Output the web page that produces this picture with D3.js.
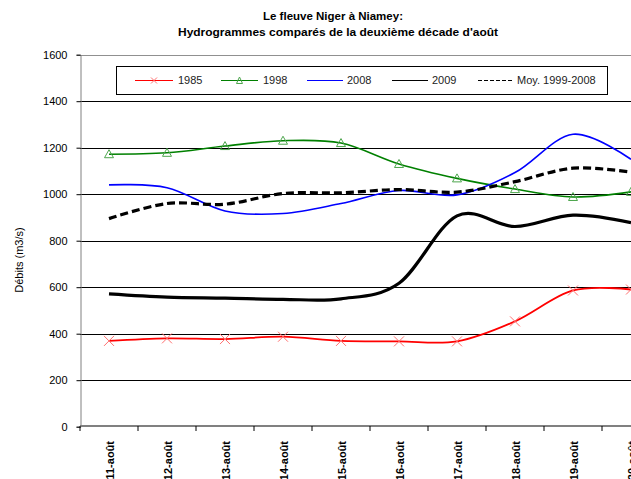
<!DOCTYPE html>
<html><head><meta charset="utf-8">
<script src="https://cdn.jsdelivr.net/npm/d3@7"></script>
<style>
html,body{margin:0;padding:0;background:#fff;overflow:hidden}
text{font-family:"Liberation Sans",Arial,sans-serif}
</style></head>
<body><svg id="c" width="631" height="479"></svg>
<script>
const categories = ["11-août","12-août","13-août","14-août","15-août","16-août","17-août","18-août","19-août","20-août"];
const s1985 = [369, 380, 377, 387, 369, 367, 367, 453, 586, 590];
const s1998 = [1172, 1178, 1207, 1230, 1220, 1130, 1068, 1022, 988, 1010];
const s2008 = [1040, 1028, 928, 917, 960, 1016, 997, 1093, 1258, 1150];
const s2009 = [571, 557, 553, 548, 550, 617, 907, 861, 910, 878];
const sMoy = [895, 960, 957, 1003, 1006, 1020, 1009, 1054, 1112, 1095];
const yTicks = [0, 200, 400, 600, 800, 1000, 1200, 1400, 1600];
const seriesNames = ["1985", "1998", "2008", "2009", "Moy. 1999-2008"];

const svg = d3.select("#c");
const x = d3.scaleBand().domain(categories).range([80, 660]);
const y = d3.scaleLinear().domain([0, 1600]).range([426.7, 54.7]);
const cx = d => x(d) + x.bandwidth() / 2;

// gridlines
svg.append("g").selectAll("line").data(yTicks.filter(v => v > 0 && v < 1600)).join("line")
  .attr("x1", 80).attr("x2", 631).attr("y1", d => Math.round(y(d)) + 0.5).attr("y2", d => Math.round(y(d)) + 0.5)
  .attr("stroke", "#000").attr("stroke-width", 1);
// top border
svg.append("line").attr("x1", 80).attr("x2", 631).attr("y1", Math.round(y(1600)) + 0.5).attr("y2", Math.round(y(1600)) + 0.5)
  .attr("stroke", "#909090").attr("stroke-width", 1);

// y axis
const yAxis = d3.axisLeft(y).tickValues(yTicks).tickSize(4).tickPadding(9).tickFormat(d3.format("d"));
const gy = svg.append("g").attr("transform", "translate(80.5,0)").call(yAxis);
gy.select(".domain").attr("stroke", "#808080");
gy.selectAll(".tick line").attr("stroke", "#000");
gy.selectAll(".tick text").attr("font-size", 11).attr("fill", "#000").attr("font-family", "Liberation Sans, Arial, sans-serif");

// x axis
const gx = svg.append("g").attr("transform", "translate(0,426)");
gx.append("line").attr("x1", 80).attr("x2", 631).attr("y1", 0).attr("y2", 0).attr("stroke", "#808080").attr("stroke-width", 2);
gx.selectAll("line.tk").data(categories).join("line").attr("class", "tk")
  .attr("x1", d => x(d)).attr("x2", d => x(d)).attr("y1", 0).attr("y2", 5).attr("stroke", "#000");
gx.selectAll("text").data(categories).join("text")
  .attr("transform", d => `translate(${cx(d) + 1},15) rotate(-90)`)
  .attr("text-anchor", "end").attr("dy", "0.35em")
  .attr("font-size", 11).attr("font-weight", "bold").text(d => d);

// lines
const line = d3.line().x((d, i) => cx(categories[i])).y(d => y(d)).curve(d3.curveCatmullRom.alpha(0));
const plot = svg.append("g");
plot.append("path").datum(s1998).attr("d", line).attr("fill", "none").attr("stroke", "#008000").attr("stroke-width", 1.6);
plot.append("path").datum(s2008).attr("d", line).attr("fill", "none").attr("stroke", "#0000ff").attr("stroke-width", 1.6);
plot.append("path").datum(sMoy).attr("d", line).attr("fill", "none").attr("stroke", "#000").attr("stroke-width", 3.2).attr("stroke-dasharray", "8,4");
plot.append("path").datum(s2009).attr("d", line).attr("fill", "none").attr("stroke", "#000").attr("stroke-width", 3.2);
plot.append("path").datum(s1985).attr("d", line).attr("fill", "none").attr("stroke", "#ff0000").attr("stroke-width", 1.8);

// markers
const tri = "M0,-4.5L4.5,3.5L-4.5,3.5Z";
const xm = "M-5,-5L5,5M-5,5L5,-5";
plot.selectAll("path.t").data(s1998).join("path").attr("class", "t")
  .attr("transform", (d, i) => `translate(${cx(categories[i])},${y(d)})`)
  .attr("d", tri).attr("fill", "none").attr("stroke", "#4ea64e").attr("stroke-width", 1);
plot.selectAll("path.x").data(s1985).join("path").attr("class", "x")
  .attr("transform", (d, i) => `translate(${cx(categories[i])},${y(d)})`)
  .attr("d", xm).attr("fill", "none").attr("stroke", "#ff7070").attr("stroke-width", 1);

// legend
const lg = svg.append("g");
lg.append("rect").attr("x", 116.5).attr("y", 66.5).attr("width", 491).attr("height", 28).attr("fill", "#fff").attr("stroke", "#000");
const lgItems = [
  {name: seriesNames[0], x1: 135, x2: 173, tx: 178, color: "#ff0000", dash: null, mk: "x"},
  {name: seriesNames[1], x1: 221, x2: 258, tx: 263, color: "#008000", dash: null, mk: "t"},
  {name: seriesNames[2], x1: 307, x2: 343, tx: 347, color: "#0000ff", dash: null, mk: null},
  {name: seriesNames[3], x1: 392, x2: 428, tx: 432, color: "#000", dash: null, mk: null},
  {name: seriesNames[4], x1: 478, x2: 513, tx: 517, color: "#000", dash: "4,2", mk: null}
];
lgItems.forEach(it => {
  const ly = 80.5;
  lg.append("line").attr("x1", it.x1).attr("x2", it.x2).attr("y1", ly).attr("y2", ly)
    .attr("stroke", it.color).attr("stroke-width", 1).attr("stroke-dasharray", it.dash);
  const mx = (it.x1 + it.x2) / 2;
  if (it.mk === "x") lg.append("path").attr("d", "M-3,-3L3,3M-3,3L3,-3").attr("transform", `translate(${mx},${ly})`).attr("stroke", "#ff7070").attr("fill", "none");
  if (it.mk === "t") lg.append("path").attr("d", "M0,-3.5L3,3L-3,3Z").attr("transform", `translate(${mx},${ly})`).attr("stroke", "#4ea64e").attr("fill", "none");
  lg.append("text").attr("x", it.tx).attr("y", ly).attr("dy", "0.35em").attr("font-size", 11).attr("fill", "#222").text(it.name);
});

// titles
svg.append("text").attr("x", 333).attr("y", 20).attr("text-anchor", "middle").attr("font-size", 11.5).attr("font-weight", "bold").text("Le fleuve Niger à Niamey:");
svg.append("text").attr("x", 338).attr("y", 36).attr("text-anchor", "middle").attr("font-size", 11.5).attr("font-weight", "bold")
  .attr("textLength", 320).attr("lengthAdjust", "spacingAndGlyphs").text("Hydrogrammes comparés de la deuxième décade d'août");
svg.append("text").attr("transform", "translate(23,260) rotate(-90)").attr("text-anchor", "middle").attr("font-size", 11).text("Débits (m3/s)");
</script></body></html>
